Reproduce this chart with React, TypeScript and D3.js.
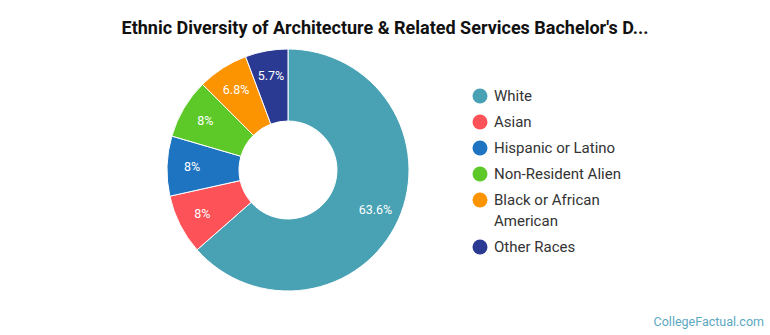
import React from "react";
import * as d3 from "d3";

const categories = ["White", "Asian", "Hispanic or Latino", "Non-Resident Alien", "Black or African American", "Other Races"];
const values = [63.6, 8, 8, 8, 6.8, 5.7];
const labels = ["63.6%", "8%", "8%", "8%", "6.8%", "5.7%"];
const legendLines = [["White"], ["Asian"], ["Hispanic or Latino"], ["Non-Resident Alien"], ["Black or African", "American"], ["Other Races"]];
const colors = ["#49a2b4", "#fd5257", "#1f74c2", "#5dc928", "#fc9300", "#2a3a92"];

const W = 770, H = 335;

export default function App() {
  const cx = 288, cy = 170, rOuter = 121, rInner = 49;
  const pie = d3.pie<number>().sort(null).value((d) => d);
  const arcs = pie(values);
  const arc = d3.arc<d3.PieArcDatum<number>>().innerRadius(rInner).outerRadius(rOuter);
  const labelArc = d3.arc<d3.PieArcDatum<number>>().innerRadius(96).outerRadius(96);
  const font = "Roboto, 'Open Sans', sans-serif";

  let y = 96;
  const legendItems = legendLines.map((lines, i) => {
    const item = { lines, y, i };
    y += 26 + (lines.length - 1) * 21;
    return item;
  });

  return (
    <svg width={W} height={H} style={{ position: "absolute", left: 0, top: 0 }} fontFamily={font}>
      <rect width={W} height={H} fill="#fff" />
      <text x={385} y={34} textAnchor="middle" fontSize={18} fontWeight="bold" fill="#111">
        Ethnic Diversity of Architecture &amp; Related Services Bachelor's D...
      </text>
      <g transform={`translate(${cx},${cy})`}>
        {arcs.map((a, i) => (
          <path key={i} d={arc(a) || ""} fill={colors[i]} stroke="#fff" strokeWidth={1} />
        ))}
        {arcs.map((a, i) => {
          const [x, yy] = labelArc.centroid(a);
          return (
            <text key={i} x={x} y={yy} dy="0.35em" textAnchor="middle" fontSize={12.5} fill="#fff">
              {labels[i]}
            </text>
          );
        })}
      </g>
      <g>
        {legendItems.map(({ lines, y, i }) => (
          <g key={i}>
            <circle cx={480} cy={y} r={7.5} fill={colors[i]} />
            {lines.map((l, j) => (
              <text key={j} x={494} y={y + j * 21} dy="0.35em" fontSize={15} fill="#333">
                {l}
              </text>
            ))}
          </g>
        ))}
      </g>
      <text x={764} y={326} textAnchor="end" fontSize={12.5} fill="#5ba8bf">
        CollegeFactual.com
      </text>
    </svg>
  );
}
